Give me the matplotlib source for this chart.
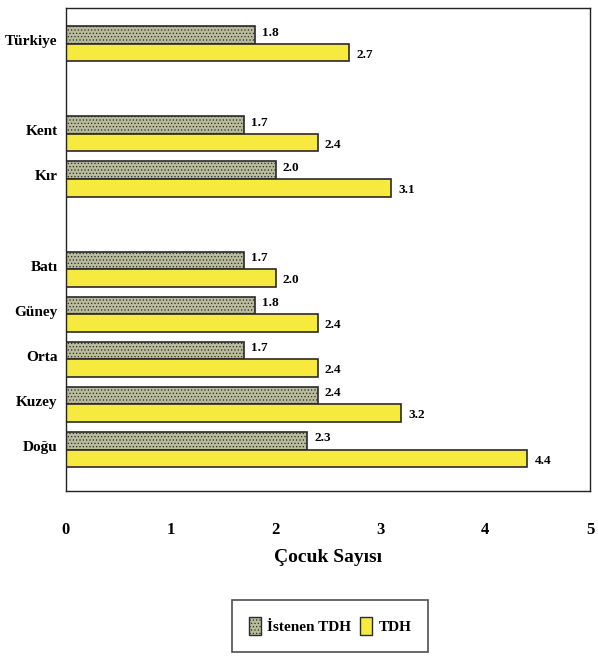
import numpy as np
import matplotlib.pyplot as plt
from matplotlib.patches import Patch

plt.rcParams['font.family'] = ['Liberation Serif', 'DejaVu Serif']
plt.rcParams['font.weight'] = 'bold'
plt.rcParams['hatch.color'] = '#a3a787'
plt.rcParams['hatch.linewidth'] = 0.5

# data
regions = ['Türkiye', 'Kent', 'Kır', 'Batı', 'Güney', 'Orta', 'Kuzey', 'Doğu']
slots = [0, 2, 3, 5, 6, 7, 8, 9]   # empty slots between groups
istenen = [1.8, 1.7, 2.0, 1.7, 1.8, 1.7, 2.4, 2.3]
tdh = [2.7, 2.4, 3.1, 2.0, 2.4, 2.4, 3.2, 4.4]

W, H = 598, 660
fig = plt.figure(figsize=(W / 100, H / 100), dpi=100)
ax = fig.add_axes([66 / W, 1 - 491 / H, 524 / W, 483 / H])

y = np.array(slots, dtype=float)
h = 0.39
ax.barh(y - h / 2, istenen, height=h, color='#b9bc9a', edgecolor='#2a2a2a',
        linewidth=1.2, hatch='.....')
ax.barh(y + h / 2, tdh, height=h, color='#f7ea3f', edgecolor='#2a2a2a',
        linewidth=1.2)

for yy, v in zip(y, istenen):
    ax.text(v + 0.07, yy - h / 2 - 0.05, f'{v:.1f}', va='center', ha='left', fontsize=9.5)
for yy, v in zip(y, tdh):
    ax.text(v + 0.07, yy + h / 2 + 0.05, f'{v:.1f}', va='center', ha='left', fontsize=9.5)

ax.set_xlim(0, 5)
ax.set_ylim(9.92, -0.79)
ax.set_yticks(y - 0.08)
ax.set_yticklabels(regions, fontsize=11)
ax.set_xticks([0, 1, 2, 3, 4, 5])
ax.set_xticklabels(['0', '1', '2', '3', '4', '5'], fontsize=12)
ax.tick_params(axis='both', length=0)
ax.tick_params(axis='x', pad=22)
ax.tick_params(axis='y', pad=6)
for s in ax.spines.values():
    s.set_linewidth(1.0)
    s.set_color('#222222')

ax.set_xlabel('Çocuk Sayısı', fontsize=14, fontweight='bold', labelpad=8)

handles = [Patch(facecolor='#b9bc9a', edgecolor='#2a2a2a', hatch='.....', label='İstenen TDH'),
           Patch(facecolor='#f7ea3f', edgecolor='#2a2a2a', label='TDH')]
leg = fig.legend(handles=handles, loc='center', bbox_to_anchor=(330 / W, 1 - 626 / H),
                 ncol=2, fontsize=11, frameon=True, fancybox=False,
                 handlelength=0.8, handleheight=1.4, handletextpad=0.4,
                 columnspacing=0.6, borderpad=1.1)
leg.get_frame().set_edgecolor('#222222')
leg.get_frame().set_linewidth(1.2)

fig.savefig('out.png', dpi=100)
